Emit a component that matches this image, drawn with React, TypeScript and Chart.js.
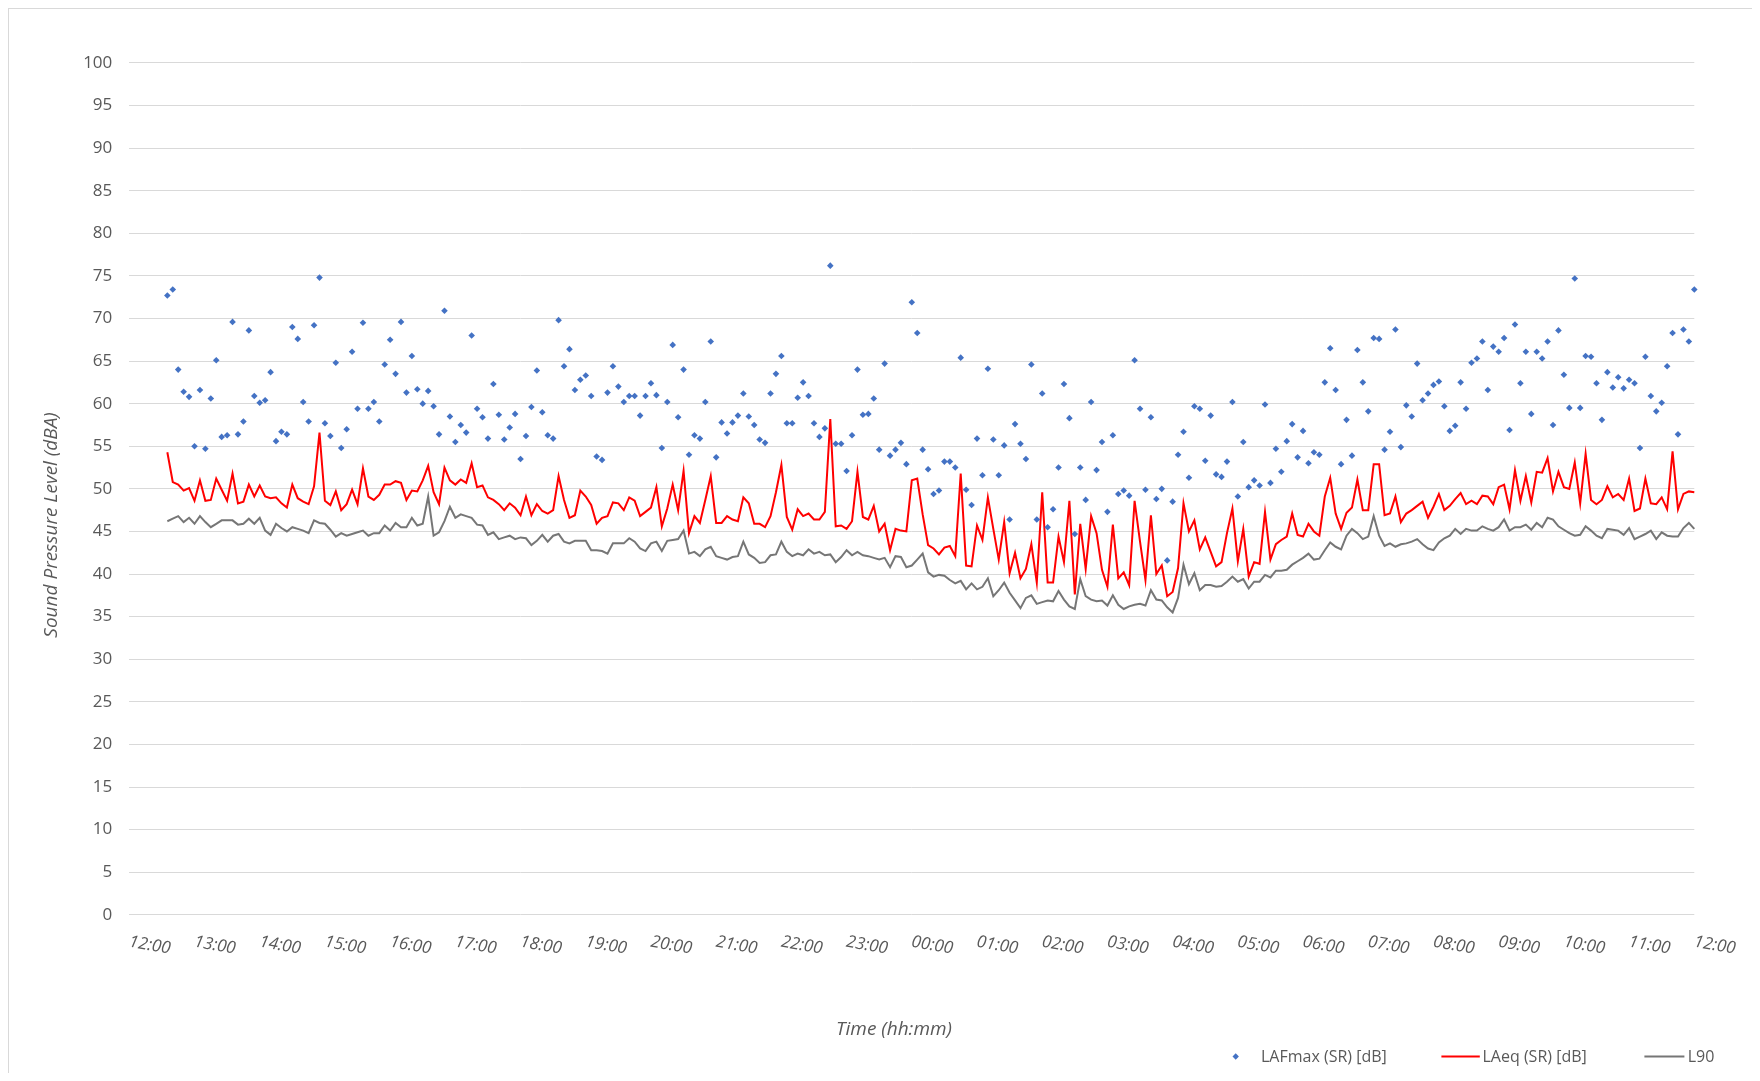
import React, { useEffect, useRef } from 'react';
import { Chart, registerables } from 'chart.js';

Chart.register(...registerables);

// Time axis: minutes after 12:00 (noon); samples every 5 minutes from 12:35 to 12:00 next day
const START_MINUTE = 35;
const STEP_MINUTES = 5;
const HOUR_LABELS = [
  '12:00', '13:00', '14:00', '15:00', '16:00', '17:00', '18:00', '19:00', '20:00', '21:00', '22:00', '23:00',
  '00:00', '01:00', '02:00', '03:00', '04:00', '05:00', '06:00', '07:00', '08:00', '09:00', '10:00', '11:00', '12:00',
];
const Y_TICKS_STEP = 5;

const SERIES_NAMES = ['LAFmax (SR) [dB]', 'LAeq (SR) [dB]', 'L90'];

const LAFMAX = [
  72.7, 73.4, 64.0, 61.4, 60.8, 55.0, 61.6, 54.7, 60.6, 65.1, 56.1, 56.3, 69.6, 56.4, 57.9, 68.6, 60.9, 60.1, 60.4, 63.7,
  55.6, 56.7, 56.4, 69.0, 67.6, 60.2, 57.9, 69.2, 74.8, 57.7, 56.2, 64.8, 54.8, 57.0, 66.1, 59.4, 69.5, 59.4, 60.2, 57.9,
  64.6, 67.5, 63.5, 69.6, 61.3, 65.6, 61.7, 60.0, 61.5,
  59.7, 56.4, 70.9, 58.5, 55.5, 57.5, 56.6, 68.0, 59.4, 58.4, 55.9, 62.3, 58.7, 55.8, 57.2, 58.8, 53.5, 56.2, 59.6, 63.9,
  59.0, 56.3, 55.9, 69.8, 64.4, 66.4, 61.6, 62.8, 63.3, 60.9, 53.8, 53.4, 61.3, 64.4, 62.0, 60.2, 60.9, 60.9, 58.6, 60.9,
  62.4, 61.0, 54.8, 60.2, 66.9, 58.4, 64.0, 54.0, 56.3, 55.9,
  60.2, 67.3, 53.7, 57.8, 56.5, 57.8, 58.6, 61.2, 58.5, 57.5, 55.8, 55.4, 61.2, 63.5, 65.6, 57.7, 57.7, 60.7, 62.5, 60.9,
  57.7, 56.1, 57.1, 76.2, 55.3, 55.3, 52.1, 56.3, 64.0, 58.7, 58.8, 60.6, 54.6, 64.7, 53.9, 54.6, 55.4, 52.9, 71.9, 68.3,
  54.6, 52.3, 49.4, 49.8, 53.2, 53.2, 52.5, 65.4, 49.9, 48.1,
  55.9, 51.6, 64.1, 55.8, 51.6, 55.1, 46.4, 57.6, 55.3, 53.5, 64.6, 46.4, 61.2, 45.5, 47.6, 52.5, 62.3, 58.3, 44.7, 52.5,
  48.7, 60.2, 52.2, 55.5, 47.3, 56.3, 49.4, 49.8, 49.2, 65.1, 59.4, 49.9, 58.4, 48.8, 50.0, 41.6, 48.5, 54.0, 56.7, 51.3,
  59.7, 59.4, 53.3, 58.6, 51.7, 51.4, 53.2, 60.2, 49.1,
  55.5, 50.2, 51.0, 50.4, 59.9, 50.7, 54.7, 52.0, 55.6, 57.6, 53.7, 56.8, 53.0, 54.3, 54.0, 62.5, 66.5, 61.6, 52.9, 58.1,
  53.9, 66.3, 62.5, 59.1, 67.7, 67.6, 54.6, 56.7, 68.7, 54.9, 59.8, 58.5, 64.7, 60.4, 61.2, 62.2, 62.6, 59.7, 56.8, 57.4,
  62.5, 59.4, 64.8, 65.3, 67.3, 61.6, 66.7, 66.1, 67.7, 56.9,
  69.3, 62.4, 66.1, 58.8, 66.1, 65.3, 67.3, 57.5, 68.6, 63.4, 59.5, 74.7, 59.5, 65.6, 65.5, 62.4, 58.1, 63.7, 61.9, 63.1,
  61.8, 62.8, 62.4, 54.8, 65.5, 60.9, 59.1, 60.1, 64.4, 68.3, 56.4, 68.7, 67.3, 73.4,
];

const LAEQ = [
  54.3, 50.8, 50.5, 49.8, 50.1, 48.6, 51.0, 48.6, 48.7, 51.2, 49.9, 48.6, 51.8, 48.3, 48.5, 50.5, 49.1, 50.4, 49.1, 48.9,
  49.0, 48.3, 47.8, 50.5, 48.9, 48.5, 48.2, 50.3, 56.6, 48.6, 48.1, 49.7, 47.5, 48.2, 49.9, 48.2, 52.4, 49.1, 48.7, 49.3,
  50.5, 50.5, 50.9, 50.7, 48.7, 49.8, 49.7, 51.0, 52.7,
  49.6, 48.2, 52.5, 51.0, 50.5, 51.1, 50.7, 53.0, 50.2, 50.4, 49.0, 48.7, 48.2, 47.5, 48.3, 47.8, 46.9, 49.1, 46.9, 48.2,
  47.4, 47.1, 47.5, 51.5, 48.7, 46.6, 46.9, 49.8, 49.1, 48.1, 45.9, 46.6, 46.8, 48.4, 48.3, 47.5, 49.0, 48.6, 46.8, 47.3,
  47.8, 50.2, 45.6, 47.7, 50.5, 47.5, 52.1, 44.8, 46.8, 46.0,
  48.7, 51.5, 46.0, 46.0, 46.8, 46.4, 46.2, 49.0, 48.3, 45.9, 45.9, 45.5, 46.8, 49.6, 52.8, 46.7, 45.2, 47.6, 46.8, 47.1,
  46.4, 46.4, 47.3, 58.2, 45.6, 45.7, 45.3, 46.2, 52.0, 46.7, 46.4, 48.0, 45.0, 45.9, 42.8, 45.3, 45.1, 45.0, 51.0, 51.2,
  47.0, 43.4, 43.0, 42.3, 43.1, 43.3, 42.1, 51.8, 41.0, 40.9,
  45.7, 44.0, 49.0, 45.3, 41.7, 46.1, 40.1, 42.5, 39.5, 40.6, 43.5, 39.0, 49.6, 39.0, 39.0, 44.4, 41.4, 48.6, 37.6, 45.9,
  40.6, 46.8, 44.8, 40.5, 38.5, 45.8, 39.5, 40.2, 38.7, 48.6, 43.8, 39.3, 46.9, 40.0, 41.0, 37.4, 37.9, 40.7, 48.3, 45.0,
  46.3, 42.9, 44.3, 42.6, 40.9, 41.4, 44.8, 47.7, 41.5,
  45.3, 39.7, 41.4, 41.2, 47.3, 41.7, 43.5, 44.0, 44.4, 47.1, 44.6, 44.4, 45.9, 45.0, 44.5, 49.1, 51.3, 47.1, 45.3, 47.2,
  47.8, 51.1, 47.5, 47.5, 52.9, 52.9, 46.9, 47.1, 49.1, 46.1, 47.1, 47.5, 48.0, 48.5, 46.6, 47.9, 49.4, 47.5, 48.0, 48.8,
  49.5, 48.2, 48.6, 48.2, 49.2, 49.1, 48.2, 50.2, 50.5, 47.6,
  52.2, 48.6, 51.5, 48.4, 52.0, 51.9, 53.6, 49.7, 52.0, 50.2, 50.0, 53.1, 48.3, 54.1, 48.7, 48.2, 48.7, 50.3, 49.0, 49.4,
  48.7, 51.2, 47.4, 47.7, 51.2, 48.3, 48.2, 49.0, 47.6, 54.4, 47.6, 49.4, 49.7, 49.6,
];

const L90 = [
  46.2, 46.5, 46.8, 46.1, 46.6, 45.9, 46.8, 46.1, 45.5, 45.9, 46.3, 46.3, 46.3, 45.8, 45.9, 46.5, 45.9, 46.6, 45.1, 44.6,
  45.9, 45.4, 45.0, 45.5, 45.3, 45.1, 44.8, 46.3, 46.0, 45.9, 45.2, 44.4, 44.8, 44.5, 44.7, 44.9, 45.1, 44.5, 44.8, 44.8,
  45.7, 45.1, 46.0, 45.5, 45.5, 46.6, 45.7, 45.9, 49.1,
  44.5, 44.9, 46.2, 47.9, 46.6, 47.0, 46.8, 46.6, 45.8, 45.7, 44.6, 44.9, 44.1, 44.3, 44.5, 44.1, 44.3, 44.2, 43.4, 43.9,
  44.6, 43.8, 44.5, 44.7, 43.8, 43.6, 43.9, 43.9, 43.9, 42.8, 42.8, 42.7, 42.4, 43.6, 43.6, 43.6, 44.2, 43.8, 43.0, 42.7,
  43.6, 43.8, 42.7, 43.9, 44.0, 44.1, 45.1, 42.4, 42.6, 42.1,
  42.9, 43.2, 42.1, 41.9, 41.7, 42.0, 42.1, 43.8, 42.3, 41.9, 41.3, 41.4, 42.2, 42.3, 43.8, 42.6, 42.1, 42.4, 42.2, 42.9,
  42.4, 42.6, 42.2, 42.3, 41.4, 42.0, 42.8, 42.2, 42.6, 42.2, 42.1, 41.9, 41.7, 41.9, 40.8, 42.1, 42.0, 40.8, 41.0, 41.7,
  42.4, 40.2, 39.7, 39.9, 39.8, 39.3, 38.9, 39.2, 38.2, 38.9,
  38.2, 38.5, 39.5, 37.4, 38.1, 39.0, 37.8, 36.9, 36.0, 37.2, 37.5, 36.5, 36.7, 36.9, 36.8, 38.0, 37.0, 36.2, 35.9, 39.4,
  37.4, 37.0, 36.8, 36.9, 36.3, 37.5, 36.4, 35.9, 36.2, 36.4, 36.5, 36.3, 38.1, 37.0, 36.9, 36.1, 35.5, 37.2, 41.1, 38.8,
  40.1, 38.1, 38.7, 38.7, 38.5, 38.6, 39.1, 39.7, 39.1,
  39.4, 38.3, 39.1, 39.1, 39.9, 39.6, 40.4, 40.4, 40.5, 41.1, 41.5, 41.9, 42.4, 41.7, 41.8, 42.8, 43.7, 43.2, 42.9, 44.5,
  45.3, 44.8, 44.1, 44.4, 46.8, 44.5, 43.3, 43.6, 43.2, 43.5, 43.6, 43.8, 44.1, 43.5, 43.0, 42.8, 43.7, 44.2, 44.5, 45.3,
  44.7, 45.3, 45.1, 45.1, 45.6, 45.3, 45.1, 45.5, 46.4, 45.1,
  45.5, 45.5, 45.8, 45.2, 46.0, 45.5, 46.6, 46.4, 45.6, 45.2, 44.8, 44.5, 44.6, 45.6, 45.1, 44.5, 44.2, 45.3, 45.2, 45.1,
  44.6, 45.4, 44.1, 44.4, 44.7, 45.1, 44.1, 44.9, 44.5, 44.4, 44.4, 45.4, 46.0, 45.3,
];

const COLORS = { lafmax: '#4472C4', laeq: '#FF0000', l90: '#767676', text: '#595959', grid: '#d9d9d9' };

const CANVAS_W = 1751;
const CANVAS_H = 1064;
const PLOT_LEFT = 120.3;
const PLOT_RIGHT = 1685.3;
const PLOT_TOP = 53.9;
const PLOT_BOTTOM = 905.8;

const toPoints = (arr: number[]) => arr.map((v, i) => ({ x: START_MINUTE + STEP_MINUTES * i, y: v }));

const textPlugin = {
  id: 'excelText',
  afterDraw(chart: any) {
    const ctx: CanvasRenderingContext2D = chart.ctx;
    const xs = chart.scales.x;
    ctx.save();
    ctx.fillStyle = COLORS.text;

    // x tick labels, rotated clockwise
    ctx.font = 'italic 17px "Open Sans"';
    ctx.textAlign = 'left';
    ctx.textBaseline = 'alphabetic';
    HOUR_LABELS.forEach((lab, h) => {
      const px = xs.getPixelForValue(h * 60);
      ctx.save();
      ctx.translate(px - 1, 937.5);
      ctx.rotate((10 * Math.PI) / 180);
      ctx.fillText(lab, 0, 0);
      ctx.restore();
    });

    // axis titles
    ctx.font = 'italic 19px "Open Sans"';
    ctx.textAlign = 'center';
    ctx.fillText('Time (hh:mm)', 885, 1026);
    ctx.save();
    ctx.translate(48, 516);
    ctx.rotate(-Math.PI / 2);
    ctx.fillText('Sound Pressure Level (dBA)', 0, 0);
    ctx.restore();

    // legend
    const ly = 1047.5;
    ctx.font = '16px "Open Sans"';
    ctx.textAlign = 'left';
    ctx.fillStyle = COLORS.lafmax;
    ctx.beginPath();
    ctx.moveTo(1226.7, ly - 3.2);
    ctx.lineTo(1229.9, ly);
    ctx.lineTo(1226.7, ly + 3.2);
    ctx.lineTo(1223.5, ly);
    ctx.closePath();
    ctx.fill();
    ctx.fillStyle = COLORS.text;
    ctx.fillText(SERIES_NAMES[0], 1252, ly + 5.7);

    ctx.strokeStyle = COLORS.laeq;
    ctx.lineWidth = 2;
    ctx.beginPath();
    ctx.moveTo(1432.4, ly);
    ctx.lineTo(1470.8, ly);
    ctx.stroke();
    ctx.fillText(SERIES_NAMES[1], 1473.5, ly + 5.7);

    ctx.strokeStyle = COLORS.l90;
    ctx.beginPath();
    ctx.moveTo(1635.4, ly);
    ctx.lineTo(1675.4, ly);
    ctx.stroke();
    ctx.fillText(SERIES_NAMES[2], 1678.7, ly + 5.7);

    ctx.restore();
  },
};

export default function App() {
  const canvasRef = useRef<HTMLCanvasElement | null>(null);

  useEffect(() => {
    document.documentElement.style.overflow = 'hidden';
    document.body.style.overflow = 'hidden';
    const canvas = canvasRef.current;
    if (!canvas) return;
    const chart = new Chart(canvas, {
      type: 'scatter',
      data: {
        datasets: [
          {
            label: SERIES_NAMES[0],
            data: toPoints(LAFMAX),
            showLine: false,
            pointStyle: 'rectRot',
            pointRadius: 3.3,
            pointHoverRadius: 3.3,
            pointBorderWidth: 0,
            backgroundColor: COLORS.lafmax,
            borderColor: COLORS.lafmax,
            clip: false,
            order: 0,
          },
          {
            label: SERIES_NAMES[1],
            data: toPoints(LAEQ),
            showLine: true,
            borderColor: COLORS.laeq,
            backgroundColor: COLORS.laeq,
            borderWidth: 2,
            pointRadius: 0,
            tension: 0,
            clip: false,
            order: 1,
          },
          {
            label: SERIES_NAMES[2],
            data: toPoints(L90),
            showLine: true,
            borderColor: COLORS.l90,
            backgroundColor: COLORS.l90,
            borderWidth: 2,
            pointRadius: 0,
            tension: 0,
            clip: false,
            order: 2,
          },
        ] as any,
      },
      options: {
        responsive: false,
        animation: false,
        devicePixelRatio: 1,
        layout: {
          padding: { left: 0, top: PLOT_TOP, right: CANVAS_W - PLOT_RIGHT, bottom: 0 },
        },
        plugins: {
          legend: { display: false },
          tooltip: { enabled: false },
          title: { display: false },
        },
        scales: {
          x: {
            type: 'linear',
            min: 0,
            max: 1440,
            grid: { display: false },
            border: { display: false },
            ticks: { display: false, stepSize: 60 },
            afterFit: (s: any) => {
              s.height = CANVAS_H - PLOT_BOTTOM;
            },
          },
          y: {
            min: 0,
            max: 100,
            ticks: {
              stepSize: Y_TICKS_STEP,
              color: COLORS.text,
              font: { family: 'Open Sans', size: 17 },
              padding: 17,
            },
            grid: { color: COLORS.grid, lineWidth: 1, drawTicks: false },
            border: { display: false },
            afterFit: (s: any) => {
              s.width = PLOT_LEFT;
            },
          },
        },
      } as any,
      plugins: [textPlugin],
    });
    return () => chart.destroy();
  }, []);

  return (
    <div
      style={{
        width: 1752,
        height: 1065,
        boxSizing: 'border-box',
        borderTop: '1px solid #d9d9d9',
        borderLeft: '1px solid #d9d9d9',
        background: '#ffffff',
      }}
    >
      <canvas ref={canvasRef} width={CANVAS_W} height={CANVAS_H} style={{ display: 'block', width: CANVAS_W, height: CANVAS_H }} />
    </div>
  );
}
